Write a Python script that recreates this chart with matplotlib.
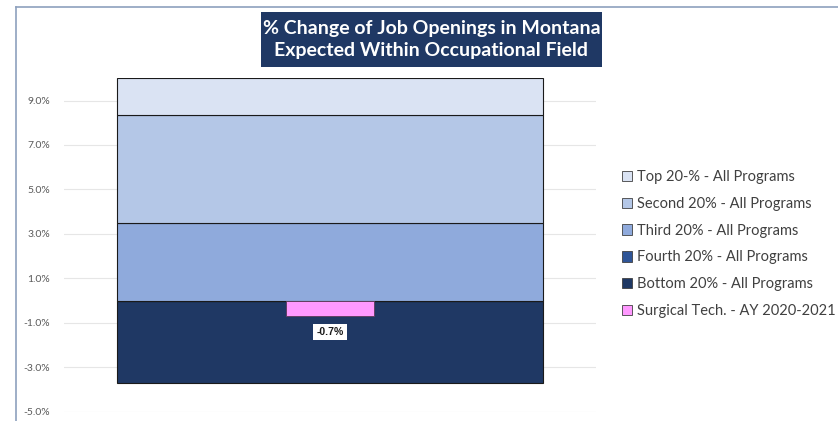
import numpy as np
import matplotlib.pyplot as plt
from matplotlib.patches import Rectangle, Patch
from matplotlib.lines import Line2D

# quintile series, stacked in Excel order (bottom first)
series = ['Bottom 20% - All Programs', 'Fourth 20% - All Programs', 'Third 20% - All Programs',
          'Second 20% - All Programs', 'Top 20-% - All Programs']
values = [-3.72, 0.0, 3.51, 4.82, 1.67]
colors = ['#1F3864', '#2F5597', '#8FAADC', '#B4C7E7', '#DAE3F3']

program = 'Surgical Tech. - AY 2020-2021'
program_value = -0.7
program_color = '#FF99FF'

yticks = [-5, -3, -1, 1, 3, 5, 7, 9]

plt.rcParams['font.family'] = ['Lato', 'DejaVu Sans']

fig = plt.figure(figsize=(8.38, 4.21), dpi=100)
ax = fig.add_axes([64 / 838, 1 - 411.7 / 421, (596 - 64) / 838, (411.7 - 78.3) / 421])

pos_base, neg_base = 0.0, 0.0
for name, v, c in zip(series, values, colors):
    if v >= 0:
        ax.bar(0, v, bottom=pos_base, width=0.8, color=c, edgecolor='#1a1a1a', linewidth=0.8, zorder=2)
        pos_base += v
    else:
        ax.bar(0, v, bottom=neg_base, width=0.8, color=c, edgecolor='#1a1a1a', linewidth=0.8, zorder=2)
        neg_base += v

ax.bar(0, program_value, width=0.167, color=program_color, edgecolor='#5a3a5a', linewidth=0.6, zorder=3)
ax.annotate(f'{program_value:.1f}%', (0, program_value), xytext=(0, -11), textcoords='offset pixels',
            ha='center', va='top', fontsize=7.5, fontweight='bold', color='#1a1a1a',
            bbox=dict(boxstyle='square,pad=0.3', fc='white', ec='none'), zorder=4,
            family=['Liberation Sans', 'DejaVu Sans'])

ax.set_xlim(-0.5, 0.5)
ax.set_ylim(-5, 10)
ax.set_yticks(yticks)
ax.set_yticklabels([f'{t:.1f}%' for t in yticks], color='#595959', fontsize=7.5)
ax.tick_params(axis='y', length=0, pad=10)
ax.set_xticks([])
ax.yaxis.grid(True, color='#E6E6E6', linewidth=0.8, zorder=0)
ax.set_axisbelow(True)
for s in ax.spines.values():
    s.set_visible(False)

# legend, top to bottom as in the reference
handles = [Patch(facecolor=c, edgecolor='#404040', linewidth=0.6) for c in colors[::-1]]
handles.append(Patch(facecolor=program_color, edgecolor='#404040', linewidth=0.6))
labels = series[::-1] + [program]
fig.legend(handles, labels, loc='upper left', bbox_to_anchor=(622 / 838, 1 - 170 / 421),
           frameon=False, fontsize=10.5, labelcolor='#404040', handlelength=0.7, handleheight=0.7,
           handletextpad=0.3, labelspacing=0.88, borderaxespad=0, borderpad=0)

# title box
fig.patches.append(Rectangle((261 / 838, 1 - 67 / 421), (602 - 261) / 838, (67 - 12) / 421,
                             transform=fig.transFigure, facecolor='#1F3864', edgecolor='none'))
fig.text(431.5 / 838, 1 - 39.5 / 421, '% Change of Job Openings in Montana\nExpected Within Occupational Field',
         ha='center', va='center', color='white', fontsize=14, fontweight='bold', linespacing=1.3)

# chart border (cropped at right and bottom)
fig.add_artist(Line2D([16 / 838, 1], [1 - 7 / 421, 1 - 7 / 421], transform=fig.transFigure,
                      color='#8EA1BD', linewidth=1.2))
fig.add_artist(Line2D([16 / 838, 16 / 838], [0, 1 - 7 / 421], transform=fig.transFigure,
                      color='#8EA1BD', linewidth=1.2))

fig.savefig('out.png', dpi=100)
